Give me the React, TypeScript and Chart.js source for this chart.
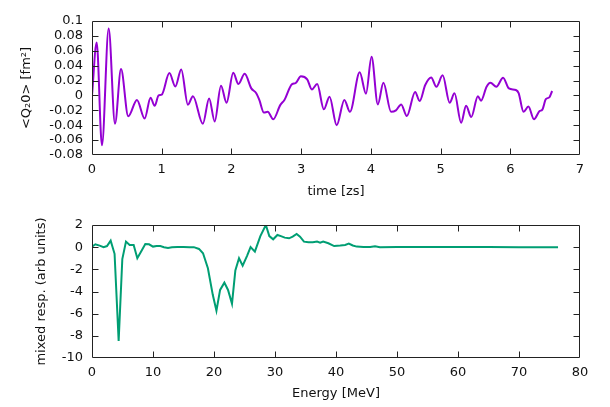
import React, { useEffect, useRef } from "react";
import { Chart, registerables } from "chart.js";

Chart.register(...registerables);

// ---- Top panel data: <Q2 0> vs time ----
const timeZs = [0, 0.067, 0.143, 0.239, 0.33, 0.416, 0.52, 0.645, 0.755, 0.84, 0.898, 0.956, 1.0, 1.11, 1.195, 1.28, 1.376, 1.448, 1.59, 1.68, 1.76, 1.85, 1.93, 2.026, 2.10, 2.19, 2.285, 2.356, 2.40, 2.466, 2.52, 2.60, 2.70, 2.76, 2.87, 2.92, 2.996, 3.087, 3.154, 3.23, 3.326, 3.407, 3.51, 3.62, 3.70, 3.84, 3.93, 4.01, 4.10, 4.18, 4.29, 4.36, 4.435, 4.516, 4.635, 4.70, 4.78, 4.865, 4.94, 5.03, 5.13, 5.20, 5.295, 5.366, 5.44, 5.535, 5.58, 5.66, 5.716, 5.80, 5.897, 5.98, 6.08, 6.12, 6.19, 6.26, 6.34, 6.42, 6.46, 6.51, 6.56, 6.60];
const q20Values = [0.0, 0.071, -0.067, 0.090, -0.038, 0.0355, -0.028, -0.006, -0.031, -0.003, -0.014, 0.0, 0.001, 0.030, 0.012, 0.035, -0.0125, -0.001, -0.038, -0.004, -0.035, 0.013, -0.0098, 0.0305, 0.0153, 0.029, 0.0095, 0.003, -0.006, -0.023, -0.022, -0.032, -0.013, -0.006, 0.0153, 0.0165, 0.0257, 0.0216, 0.008, 0.0153, -0.0187, -0.0017, -0.040, -0.006, -0.022, 0.031, 0.0023, 0.052, -0.012, 0.017, -0.022, -0.020, -0.012, -0.0277, 0.0046, -0.0075, 0.014, 0.024, 0.0117, 0.027, -0.0098, 0.0028, -0.0366, -0.0138, -0.029, -0.001, -0.007, 0.0117, 0.017, 0.0117, 0.0238, 0.0095, 0.0073, 0.003, -0.022, -0.015, -0.032, -0.021, -0.019, -0.005, -0.0026, 0.006];

// ---- Bottom panel data: mixed response vs energy ----
const energyMeV = [0, 0.55, 1.25, 1.9, 2.46, 3.06, 3.7, 4.37, 4.97, 5.57, 6.17, 6.83, 7.43, 8.1, 8.74, 9.35, 10.0, 10.6, 11.2, 11.8, 12.46, 13.1, 14.0, 15.0, 16.0, 16.7, 17.54, 18.2, 19.0, 19.8, 20.4, 21.0, 21.7, 22.3, 22.95, 23.5, 24.1, 24.7, 25.4, 26.0, 26.7, 27.6, 28.5, 29.07, 29.7, 30.4, 30.97, 31.6, 32.3, 32.9, 33.55, 34.1, 34.75, 35.5, 36.2, 36.9, 37.4, 37.9, 38.75, 39.7, 40.7, 41.5, 42.1, 42.75, 43.4, 44.5, 45.6, 46.4, 47.2, 50, 55, 60, 65, 70, 76.4];
const mixedResp = [0.05, 0.26, 0.14, 0.0, 0.1, 0.59, -0.6, -8.47, -1.07, 0.5, 0.2, 0.2, -1.0, -0.34, 0.29, 0.26, 0.05, 0.1, 0.1, 0.0, -0.07, 0.0, 0.02, 0.02, 0.0, 0.0, -0.16, -0.55, -1.9, -4.3, -5.73, -3.86, -3.2, -3.86, -5.1, -2.1, -1.0, -1.67, -0.8, 0.0, -0.4, 1.0, 2.0, 1.0, 0.71, 1.1, 1.0, 0.86, 0.8, 0.95, 1.19, 0.95, 0.5, 0.44, 0.44, 0.5, 0.4, 0.5, 0.35, 0.1, 0.15, 0.2, 0.32, 0.15, 0.05, 0.02, 0.02, 0.08, 0.0, 0.02, 0.01, 0.01, 0.01, 0.0, 0.0];

const topXTicks = { min: 0, max: 7, step: 1 };
const topYTicks = { min: -0.08, max: 0.1, step: 0.02 };
const botXTicks = { min: 0, max: 80, step: 10 };
const botYTicks = { min: -10, max: 2, step: 2 };

const FONT = "'DejaVu Sans', 'Liberation Sans', Arial, sans-serif";
const TEXT = "#111111";

const framePlugin = {
  id: "gnuFrame",
  afterDraw(chart: any) {
    const { ctx, chartArea } = chart;
    const { left, right, top, bottom } = chartArea;
    const xs = chart.scales.x;
    const ys = chart.scales.y;
    const L = 6;
    ctx.save();
    ctx.strokeStyle = "#222222";
    ctx.lineWidth = 1;
    const l = Math.round(left) + 0.5;
    const r = Math.round(right) - 0.5;
    const t = Math.round(top) + 0.5;
    const b = Math.round(bottom) - 0.5;
    ctx.beginPath();
    ctx.rect(l, t, r - l, b - t);
    ctx.stroke();
    ctx.beginPath();
    xs.ticks.forEach((tk: any) => {
      const px = Math.round(xs.getPixelForValue(tk.value)) + 0.5;
      if (px <= l + 1 || px >= r - 1) return;
      ctx.moveTo(px, b);
      ctx.lineTo(px, b - L);
      ctx.moveTo(px, t);
      ctx.lineTo(px, t + L);
    });
    ys.ticks.forEach((tk: any) => {
      const py = Math.round(ys.getPixelForValue(tk.value)) + 0.5;
      if (py <= t + 1 || py >= b - 1) return;
      ctx.moveTo(l, py);
      ctx.lineTo(l + L, py);
      ctx.moveTo(r, py);
      ctx.lineTo(r - L, py);
    });
    ctx.stroke();
    ctx.restore();
  },
};

function fmt(v: number) {
  const n = Number(v.toFixed(4));
  return String(n);
}

function makeConfig(opts: {
  xs: number[];
  ys: number[];
  color: string;
  smooth: boolean;
  xT: { min: number; max: number; step: number };
  yT: { min: number; max: number; step: number };
  xTitle: string;
  yTitle: string;
  yTitlePad: number;
  top: number;
  xHeight: number;
}) {
  const data = opts.xs.map((x, i) => ({ x, y: opts.ys[i] }));
  return {
    type: "line" as const,
    data: {
      datasets: [
        {
          data,
          borderColor: opts.color,
          borderWidth: 2,
          pointRadius: 0,
          fill: false,
          tension: opts.smooth ? 0.4 : 0,
          cubicInterpolationMode: opts.smooth ? ("monotone" as const) : ("default" as const),
        },
      ],
    },
    options: {
      animation: false as const,
      responsive: false,
      devicePixelRatio: 1,
      layout: { padding: { left: 0, right: 30, top: opts.top, bottom: 0 } },
      plugins: { legend: { display: false }, tooltip: { enabled: false } },
      scales: {
        x: {
          type: "linear" as const,
          min: opts.xT.min,
          max: opts.xT.max,
          grid: { display: false, drawTicks: false },
          border: { display: false },
          ticks: {
            stepSize: opts.xT.step,
            autoSkip: false,
            maxRotation: 0,
            padding: 7,
            color: TEXT,
            font: { family: FONT, size: 13 },
            callback: (v: any) => fmt(Number(v)),
          },
          title: {
            display: true,
            text: opts.xTitle,
            color: TEXT,
            font: { family: FONT, size: 13 },
            padding: { top: 0, bottom: 6 },
          },
          afterFit: (s: any) => {
            s.height = opts.xHeight;
          },
        },
        y: {
          type: "linear" as const,
          min: opts.yT.min,
          max: opts.yT.max,
          grid: { display: false, drawTicks: false },
          border: { display: false },
          ticks: {
            stepSize: opts.yT.step,
            autoSkip: false,
            padding: 9,
            color: TEXT,
            font: { family: FONT, size: 13 },
            callback: (v: any) => fmt(Number(v)),
          },
          title: {
            display: true,
            text: opts.yTitle,
            color: TEXT,
            font: { family: FONT, size: 13 },
            padding: { top: opts.yTitlePad, bottom: 0 },
          },
          afterFit: (s: any) => {
            s.width = 92;
          },
        },
      },
    },
    plugins: [framePlugin],
  };
}

function Panel(props: { cfg: any; width: number; height: number; top: number }) {
  const ref = useRef<HTMLCanvasElement | null>(null);
  useEffect(() => {
    if (!ref.current) return;
    const chart = new Chart(ref.current, props.cfg);
    return () => chart.destroy();
  }, []);
  return (
    <canvas
      ref={ref}
      width={props.width}
      height={props.height}
      style={{
        position: "absolute",
        left: 0,
        top: props.top,
        width: props.width,
        height: props.height,
        display: "block",
      }}
    />
  );
}

export default function App() {
  const topCfg = makeConfig({
    xs: timeZs,
    ys: q20Values,
    color: "#9400d3",
    smooth: true,
    xT: topXTicks,
    yT: topYTicks,
    xTitle: "time [zs]",
    yTitle: "<Q\u20820> [fm\u00b2]",
    yTitlePad: 19,
    top: 21,
    xHeight: 50,
  });
  const botCfg = makeConfig({
    xs: energyMeV,
    ys: mixedResp,
    color: "#009e73",
    smooth: false,
    xT: botXTicks,
    yT: botYTicks,
    xTitle: "Energy [MeV]",
    yTitle: "mixed resp. (arb units)",
    yTitlePad: 34,
    top: 20,
    xHeight: 49,
  });
  return (
    <div
      style={{
        position: "absolute",
        left: 0,
        top: 0,
        width: 610,
        height: 407,
        background: "#ffffff",
      }}
    >
      <Panel cfg={topCfg} width={610} height={205} top={0} />
      <Panel cfg={botCfg} width={610} height={202} top={205} />
    </div>
  );
}
